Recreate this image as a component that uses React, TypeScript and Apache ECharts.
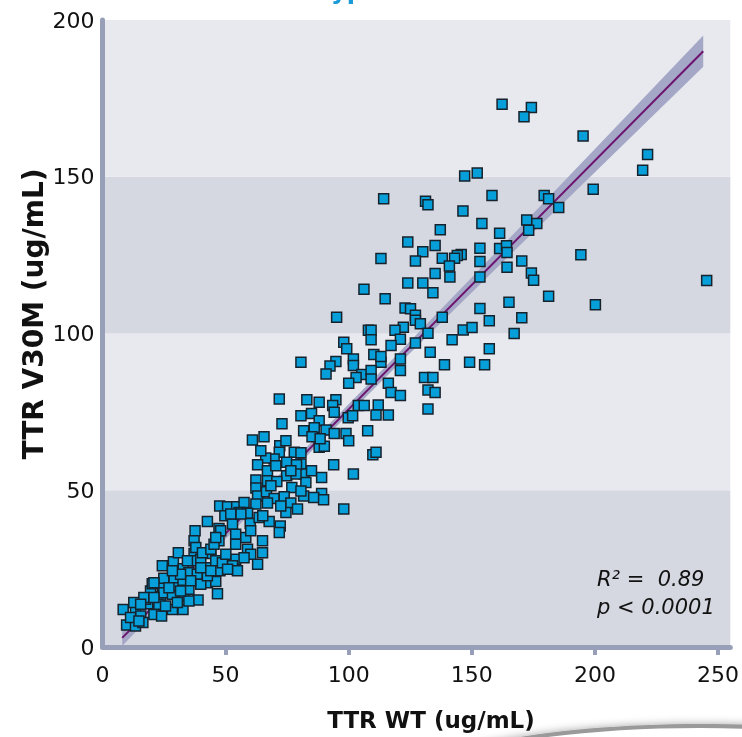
import { useEffect, useRef } from "react";
import * as echarts from "echarts";

// TTR concentration per sample: wild-type assay (x) vs V30M assay (y), ug/mL
const wtValues = [
  162.3, 174.2, 171.2, 195.2, 221.4, 219.4, 199.3, 194.3, 245.4, 200.2,
  147.1, 152.2, 158.2, 146.4, 154.1, 179.4, 181.2, 185.3, 172.3, 176.4,
  173.1, 161.3, 145.7, 153.3, 161.3, 164.1, 164.3, 153.3, 164.3, 170.3,
  174.2, 175.1, 153.3, 181.2, 165.1, 153.3, 157.1, 170.3, 167.2, 146.5,
  150.1, 157.1, 114.2, 131.2, 132.2, 137.2, 124.0, 130.1, 135.1, 127.1,
  138.0, 144.1, 143.0, 140.9, 113.1, 135.1, 141.1, 124.0, 130.1, 134.2,
  114.8, 122.9, 125.1, 127.1, 127.1, 129.1, 122.2, 118.8, 121.0, 117.2,
  127.1, 132.2, 138.0, 142.0, 133.1, 138.9, 149.1, 155.2, 121.0, 121.0,
  113.1, 116.1, 130.8, 134.2, 132.2, 135.1, 117.2, 121.0, 95.1, 108.0,
  109.1, 109.1, 98.0, 99.2, 132.2, 80.6, 101.9, 101.9, 110.2, 113.1,
  94.8, 92.4, 90.8, 105.3, 103.0, 109.1, 109.1, 100.0, 83.0, 88.0,
  94.8, 93.5, 94.1, 84.9, 80.6, 88.0, 103.9, 106.3, 112.0, 111.1,
  116.1, 99.8, 101.6, 81.7, 86.0, 90.8, 94.1, 85.1, 98.9, 100.0,
  107.7, 88.0, 90.1, 109.8, 111.1, 80.6, 93.9, 101.9, 81.9, 84.9,
  89.0, 82.6, 89.0, 81.7, 85.8, 89.8, 106.2, 71.8, 72.9, 88.4,
  60.9, 65.6, 72.0, 71.8, 77.9, 69.7, 66.3, 63.0, 74.8, 78.8,
  67.0, 74.8, 62.3, 67.0, 70.8, 76.9, 62.3, 63.0, 66.6, 69.7,
  73.8, 62.3, 67.0, 76.5, 79.2, 74.5, 98.0, 47.6, 50.8, 54.5,
  57.5, 49.7, 55.5, 58.9, 42.6, 60.0, 63.6, 67.7, 72.2, 47.3,
  63.0, 65.0, 65.0, 71.8, 78.6, 8.4, 9.8, 13.4, 13.4, 15.5,
  16.4, 18.4, 23.6, 17.5, 20.9, 24.0, 28.4, 32.7, 19.5, 20.2,
  24.3, 24.9, 28.4, 33.1, 38.8, 35.1, 29.7, 29.0, 32.7, 24.9,
  20.9, 24.3, 28.8, 32.8, 30.8, 37.2, 36.9, 35.1, 38.5, 39.9,
  42.6, 44.0, 47.3, 46.0, 47.7, 42.6, 46.0, 46.7, 37.6, 37.2,
  37.9, 40.6, 44.0, 54.1, 54.1, 54.1, 52.8, 58.2, 58.9, 60.2,
  12.7, 16.8, 22.9, 25.6, 30.4, 35.1, 27.0, 31.7, 39.9, 42.6,
  35.8, 34.5, 39.9, 44.0, 48.7, 50.1, 45.3, 48.0, 46.0, 52.8,
  56.2, 52.1, 60.2, 57.5, 54.8, 50.8, 31.7, 28.4, 20.9, 15.5,
  11.4, 14.8, 64.3, 76.5, 68.4, 72.4, 80.6, 65.1, 70.4, 80.6,
  74.5,
];

const v30mValues = [
  173.1, 172.1, 169.1, 163.0, 157.1, 152.1, 146.0, 125.1, 116.9, 109.2,
  150.2, 151.2, 144.0, 139.1, 135.1, 144.0, 143.0, 140.2, 136.2, 135.1,
  132.9, 132.0, 125.2, 127.2, 127.1, 128.0, 125.8, 123.0, 121.1, 123.1,
  119.3, 117.0, 118.0, 111.9, 110.0, 108.0, 104.1, 105.0, 100.0, 101.1,
  101.9, 95.1, 143.0, 142.2, 141.1, 133.1, 129.2, 126.1, 128.1, 123.1,
  124.0, 124.9, 124.0, 121.5, 123.9, 119.1, 118.0, 116.1, 116.1, 113.0,
  111.1, 108.1, 107.9, 105.8, 104.2, 103.1, 102.0, 101.0, 98.2, 96.2,
  97.0, 100.1, 105.2, 98.0, 94.0, 90.0, 90.8, 90.0, 91.9, 88.2,
  90.8, 84.1, 86.0, 86.0, 82.0, 81.2, 81.2, 80.2, 105.2, 101.0,
  101.0, 98.0, 97.2, 95.1, 75.9, 90.8, 91.9, 89.8, 93.3, 92.7,
  91.1, 89.6, 87.1, 86.9, 86.0, 88.2, 85.5, 84.1, 78.9, 78.1,
  78.9, 77.0, 74.9, 74.5, 73.8, 72.2, 77.0, 77.0, 77.2, 74.0,
  74.0, 73.1, 73.8, 69.0, 69.9, 69.2, 68.1, 67.1, 68.1, 65.8,
  69.0, 63.7, 64.0, 61.3, 62.1, 58.4, 58.1, 55.2, 55.2, 56.2,
  54.1, 52.5, 49.0, 48.2, 47.7, 47.0, 114.1, 79.1, 71.2, 66.4,
  66.0, 67.1, 64.2, 62.1, 62.1, 60.0, 60.3, 58.1, 58.9, 58.1,
  56.2, 54.6, 53.3, 53.0, 52.8, 50.9, 50.7, 48.2, 49.5, 47.4,
  47.9, 45.6, 45.9, 45.9, 44.0, 42.9, 44.0, 45.0, 44.7, 44.7,
  46.1, 41.9, 42.9, 42.7, 40.0, 39.4, 41.3, 40.0, 38.6, 37.8,
  26.4, 30.1, 33.9, 36.5, 55.2, 12.0, 7.0, 6.7, 12.0, 9.9,
  7.8, 13.8, 16.0, 15.2, 10.4, 9.9, 12.0, 12.0, 17.9, 20.2,
  19.5, 17.3, 16.8, 16.3, 15.0, 18.4, 19.5, 22.1, 21.3, 21.9,
  20.5, 25.9, 27.2, 25.0, 30.1, 29.8, 27.5, 23.7, 23.2, 28.0,
  25.3, 29.8, 33.9, 27.5, 24.3, 20.5, 20.9, 17.0, 37.1, 33.9,
  31.7, 30.1, 31.2, 36.0, 32.8, 28.0, 25.9, 34.9, 31.2, 29.6,
  14.2, 15.8, 13.6, 13.1, 14.2, 14.7, 18.9, 17.9, 20.0, 22.7,
  21.1, 27.5, 25.3, 24.3, 26.9, 29.6, 32.8, 37.1, 34.9, 39.2,
  42.4, 42.4, 37.1, 28.5, 24.3, 24.8, 23.2, 24.3, 15.8, 13.6,
  9.4, 8.3, 62.6, 56.2, 51.4, 45.0, 49.8, 41.9, 57.8, 62.0,
  65.8,
];

// Axis ticks and labels
const xTickLabels = [0, 50, 100, 150, 200, 250];
const xTickMarks = [50, 100, 150, 200, 250];

// Least-squares fit and its confidence band
const fitIntercept = -3.44;
const fitSlope = 0.793;
const fitRange = [8, 244];
const bandX = [8, 40, 80, 120, 160, 200, 244];
const bandHalfWidth = [2.6, 1.8, 1.4, 1.8, 2.6, 3.7, 5.0];

const statsLines = ["R\u00b2 =  0.89", "p < 0.0001"];

const FONT = "'DejaVu Sans', sans-serif";
const AXIS_COLOR = "#97a0b8";

export default function App() {
  const ref = useRef<HTMLDivElement>(null);

  useEffect(() => {
    const chart = echarts.init(ref.current!, undefined, { renderer: "svg" });
    const fit = (x: number) => fitIntercept + fitSlope * x;

    chart.setOption({
      animation: false,
      grid: { left: 102.5, right: 11, top: 20, bottom: 90 },
      xAxis: {
        type: "value",
        min: 0,
        max: 255,
        axisLine: { show: true, lineStyle: { color: AXIS_COLOR, width: 5 } },
        axisTick: {
          show: true,
          length: 8,
          customValues: xTickMarks,
          lineStyle: { color: AXIS_COLOR, width: 4 },
        },
        axisLabel: {
          customValues: xTickLabels,
          margin: 16,
          fontFamily: FONT,
          fontSize: 22,
          color: "#111",
        },
        splitLine: { show: false },
      },
      yAxis: {
        type: "value",
        min: 0,
        max: 200,
        interval: 50,
        axisLine: { show: true, lineStyle: { color: AXIS_COLOR, width: 5 } },
        axisTick: { show: false },
        axisLabel: { margin: 8, fontFamily: FONT, fontSize: 22, color: "#111" },
        splitLine: { show: false },
        splitArea: { show: true, areaStyle: { color: ["#d5d8e1", "#e8e9ef"] } },
      },
      series: [
        {
          type: "custom",
          z: 1,
          data: [[bandX[0], fit(bandX[0])]],
          renderItem: (params: any, api: any) => {
            const upper = bandX.map((x, i) => api.coord([x, fit(x) + bandHalfWidth[i]]));
            const lower = bandX
              .map((x, i) => api.coord([x, fit(x) - bandHalfWidth[i]]))
              .reverse();
            return {
              type: "polygon",
              shape: { points: upper.concat(lower) },
              style: { fill: "#a5a7c6" },
            };
          },
        },
        {
          type: "line",
          z: 2,
          symbol: "none",
          data: fitRange.map((x) => [x, fit(x)]),
          lineStyle: { color: "#6c1470", width: 2 },
        },
        {
          type: "scatter",
          z: 3,
          symbol: "rect",
          symbolSize: 10,
          data: wtValues.map((x, i) => [x, v30mValues[i]]),
          itemStyle: { color: "#079fd9", borderColor: "#16222c", borderWidth: 1.5, opacity: 1 },
        },
      ],
      graphic: [
        {
          type: "text",
          x: 250,
          y: 3,
          style: {
            text: "Genotype",
            font: `bold 24px ${FONT}`,
            fill: "#1a9ad7",
            align: "left",
            verticalAlign: "bottom",
          },
        },
        {
          type: "text",
          x: 33,
          y: 314,
          rotation: Math.PI / 2,
          style: {
            text: "TTR V30M (ug/mL)",
            font: `bold 28px ${FONT}`,
            fill: "#111",
            align: "center",
            verticalAlign: "middle",
          },
        },
        {
          type: "text",
          x: 431,
          y: 720,
          style: {
            text: "TTR WT (ug/mL)",
            font: `bold 23px ${FONT}`,
            fill: "#111",
            align: "center",
            verticalAlign: "middle",
          },
        },
        ...statsLines.map((line, i) => ({
          type: "text",
          x: 597,
          y: 578.5 + i * 28,
          z: 10,
          style: {
            text: line,
            font: `oblique 21px ${FONT}`,
            fill: "#111",
            align: "left",
            verticalAlign: "middle",
          },
        })),
        // soft grey rim of the rounded shape peeking in at the lower right
        {
          type: "ellipse",
          shape: { cx: 700, cy: 802, rx: 326, ry: 78 },
          style: {
            fill: "#9a9a9a",
            shadowBlur: 8,
            shadowColor: "rgba(0,0,0,0.35)",
          },
        },
        {
          type: "ellipse",
          shape: { cx: 700, cy: 806, rx: 326, ry: 78 },
          style: { fill: "#ffffff" },
        },
      ],
    });

    return () => chart.dispose();
  }, []);

  return (
    <div
      ref={ref}
      style={{ position: "fixed", left: 0, top: 0, width: 742, height: 737 }}
    />
  );
}
